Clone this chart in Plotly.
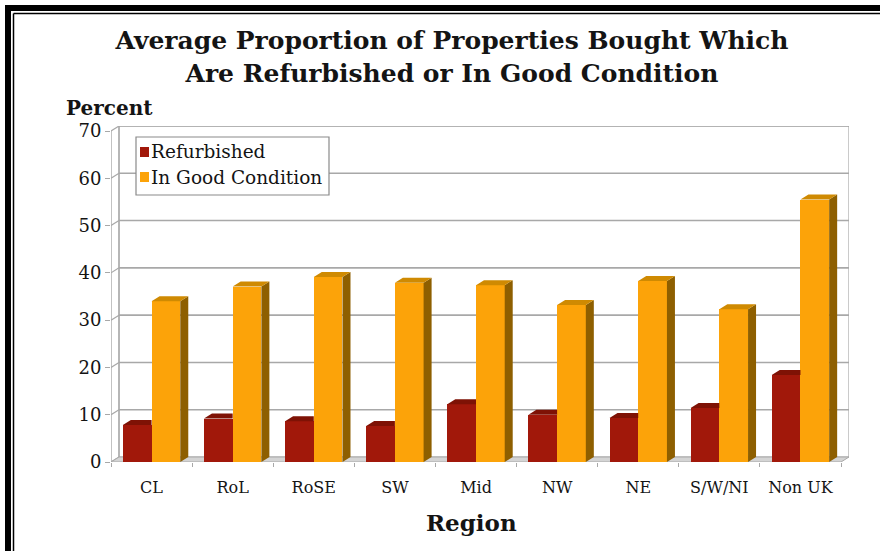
import plotly.graph_objects as go

# ---- data -------------------------------------------------------------
regions = ["CL", "RoL", "RoSE", "SW", "Mid", "NW", "NE", "S/W/NI", "Non UK"]
refurbished = [7.8, 9.2, 8.6, 7.6, 12.2, 10.0, 9.3, 11.4, 18.4]
good_condition = [34.0, 37.1, 39.1, 37.9, 37.4, 33.2, 38.3, 32.3, 55.5]
y_ticks = [0, 10, 20, 30, 40, 50, 60, 70]
series_names = ["Refurbished", "In Good Condition"]

# ---- geometry (pixels) --------------------------------------------------
W, H = 880, 551
FRONT_L, FRONT_R = 111, 841      # front plane, left/right
BASE_Y, TOP_Y = 462, 131         # front plane, value 0 / value 70
DEPTH_X, DEPTH_Y = 8, 5          # pseudo-3D depth offset
Y_MAX = 70

n = len(regions)
cat_px = (FRONT_R - FRONT_L) / n
val_px = (BASE_Y - TOP_Y) / Y_MAX
dxu = DEPTH_X / cat_px           # depth in category units
dyu = DEPTH_Y / val_px           # depth in value units
bar_w = 0.354

M_L, M_R = FRONT_L, W - (FRONT_R + DEPTH_X)
M_T, M_B = TOP_Y - DEPTH_Y, H - BASE_Y
plot_h = H - M_T - M_B
plot_w = W - M_L - M_R


def px_x(p):
    return (p - M_L) / plot_w


def px_y(p):
    return (H - M_B - p) / plot_h


# ---- colours ------------------------------------------------------------
RED = dict(front="#A1180A", top="#7E1205", side="#5C0A02")
ORG = dict(front="#FCA309", top="#CF8A02", side="#8E5F00")
GRID = "#A8A8A8"
TXT = "#141414"
SERIF = "DejaVu Serif"

fig = go.Figure()

# front faces
fig.add_trace(go.Bar(
    x=[i - bar_w / 2 for i in range(n)], y=refurbished, width=bar_w,
    name=series_names[0], marker=dict(color=RED["front"], line=dict(width=0)),
    showlegend=False))
fig.add_trace(go.Bar(
    x=[i + bar_w / 2 for i in range(n)], y=good_condition, width=bar_w,
    name=series_names[1], marker=dict(color=ORG["front"], line=dict(width=0)),
    showlegend=False))


def poly_trace(xs, ys, color):
    return go.Scatter(x=xs, y=ys, mode="lines", fill="toself",
                      fillcolor=color, line=dict(width=0, color=color),
                      hoverinfo="skip", showlegend=False)


# top faces of the red bars (the part behind the orange bar is hidden)
tx, ty = [], []
for i, v in enumerate(refurbished):
    x0, x1 = i - bar_w, i
    tx += [x0, x1, x1, x0 + dxu, x0, None]
    ty += [v, v, v + dyu, v + dyu, v, None]
fig.add_trace(poly_trace(tx, ty, RED["top"]))

# top and side faces of the orange bars
tx, ty, sx, sy = [], [], [], []
for i, v in enumerate(good_condition):
    x0, x1 = i, i + bar_w
    tx += [x0, x1, x1 + dxu, x0 + dxu, x0, None]
    ty += [v, v, v + dyu, v + dyu, v, None]
    sx += [x1, x1 + dxu, x1 + dxu, x1, x1, None]
    sy += [0, dyu, v + dyu, v, 0, None]
fig.add_trace(poly_trace(sx, sy, ORG["side"]))
fig.add_trace(poly_trace(tx, ty, ORG["top"]))

shapes = []
xl, xr = -0.5, n - 0.5

# back wall
shapes.append(dict(type="rect", xref="x", yref="y", layer="below",
                   x0=xl + dxu, x1=xr + dxu, y0=dyu, y1=Y_MAX + dyu,
                   line=dict(color=GRID, width=1.2), fillcolor="white"))
# gridlines on the back wall and the matching diagonals on the side wall
for v in y_ticks:
    if v > 0:
        shapes.append(dict(type="line", xref="x", yref="y", layer="below",
                           x0=xl + dxu, x1=xr + dxu, y0=v + dyu, y1=v + dyu,
                           line=dict(color=GRID, width=1.6)))
    shapes.append(dict(type="line", xref="x", yref="y", layer="below",
                       x0=xl, x1=xl + dxu, y0=v, y1=v + dyu,
                       line=dict(color=GRID, width=1.2)))
# floor
shapes.append(dict(type="path", xref="x", yref="y", layer="below",
                   path=f"M {xl},0 L {xr},0 L {xr + dxu},{dyu} L {xl + dxu},{dyu} Z",
                   fillcolor="#D4D4D4", line=dict(color=GRID, width=1)))
# front value axis line
shapes.append(dict(type="line", xref="x", yref="y", layer="below",
                   x0=xl, x1=xl, y0=0, y1=Y_MAX,
                   line=dict(color=GRID, width=1.4)))
# left wall edge
shapes.append(dict(type="line", xref="x", yref="y", layer="below",
                   x0=xl + dxu, x1=xl + dxu, y0=dyu, y1=Y_MAX + dyu,
                   line=dict(color=GRID, width=1.2)))

# legend box
LEG_L, LEG_R, LEG_T, LEG_B = 136, 329, 137, 195
shapes.append(dict(type="rect", xref="paper", yref="paper",
                   x0=px_x(LEG_L), x1=px_x(LEG_R), y0=px_y(LEG_B), y1=px_y(LEG_T),
                   line=dict(color="#8A8A8A", width=1.2), fillcolor="white"))
annotations = []
leg_rows = [(series_names[0], RED["front"], 152), (series_names[1], ORG["front"], 177)]
for label, col, cy in leg_rows:
    shapes.append(dict(type="rect", xref="paper", yref="paper",
                       x0=px_x(140), x1=px_x(149), y0=px_y(cy + 5), y1=px_y(cy - 5),
                       line=dict(width=0), fillcolor=col))
    annotations.append(dict(text=label, xref="paper", yref="paper",
                            x=px_x(149), y=px_y(cy), xanchor="left", yanchor="middle",
                            showarrow=False, font=dict(family=SERIF, size=18.5, color=TXT)))

# page frame
frame = "#000000"
shapes.append(dict(type="rect", xref="paper", yref="paper",
                   x0=px_x(5), x1=px_x(11), y0=px_y(H + 5), y1=px_y(5),
                   line=dict(width=0), fillcolor=frame))
shapes.append(dict(type="rect", xref="paper", yref="paper",
                   x0=px_x(5), x1=px_x(W + 5), y0=px_y(11), y1=px_y(5),
                   line=dict(width=0), fillcolor=frame))
shapes.append(dict(type="line", xref="paper", yref="paper",
                   x0=px_x(13.5), x1=px_x(13.5), y0=px_y(H + 5), y1=px_y(13.5),
                   line=dict(color=frame, width=1.5)))
shapes.append(dict(type="line", xref="paper", yref="paper",
                   x0=px_x(13.5), x1=px_x(W + 5), y0=px_y(13.5), y1=px_y(13.5),
                   line=dict(color=frame, width=1.5)))

# axis captions
annotations.append(dict(text="<b>Percent</b>", xref="paper", yref="paper",
                        x=px_x(64), y=px_y(108), xanchor="left", yanchor="middle",
                        showarrow=False, font=dict(family=SERIF, size=20, color=TXT)))
annotations.append(dict(text="<b>Region</b>", xref="paper", yref="paper",
                        x=px_x(471), y=px_y(522), xanchor="center", yanchor="middle",
                        showarrow=False, font=dict(family=SERIF, size=23, color=TXT)))

fig.update_layout(
    width=W, height=H,
    margin=dict(l=M_L, r=M_R, t=M_T, b=M_B, pad=0),
    paper_bgcolor="white", plot_bgcolor="rgba(0,0,0,0)",
    barmode="overlay", bargap=0,
    title=dict(text="<b>Average Proportion of Properties Bought Which<br>"
                    "Are Refurbished or In Good Condition</b>",
               x=452 / W, xanchor="center", y=1 - 49 / H, yanchor="middle",
               font=dict(family=SERIF, size=25, color=TXT)),
    xaxis=dict(range=[xl, xr + dxu], tickvals=list(range(n)), ticktext=regions,
               showgrid=False, zeroline=False, showline=False, ticks="",
               tickfont=dict(family=SERIF, size=16, color=TXT),
               ticklabelstandoff=14,
               minor=dict(tickvals=[k - 0.5 for k in range(n + 1)], ticks="outside",
                          ticklen=4, tickcolor=GRID, showgrid=False),
               fixedrange=True),
    yaxis=dict(range=[0, Y_MAX + dyu], tickvals=y_ticks,
               ticktext=[str(t) for t in y_ticks],
               showgrid=False, zeroline=False, showline=False,
               ticks="outside", ticklen=5, tickcolor=GRID, tickwidth=1.2,
               tickfont=dict(family=SERIF, size=18, color=TXT),
               fixedrange=True),
    shapes=shapes, annotations=annotations, showlegend=False,
)

fig.write_html("out.html")
